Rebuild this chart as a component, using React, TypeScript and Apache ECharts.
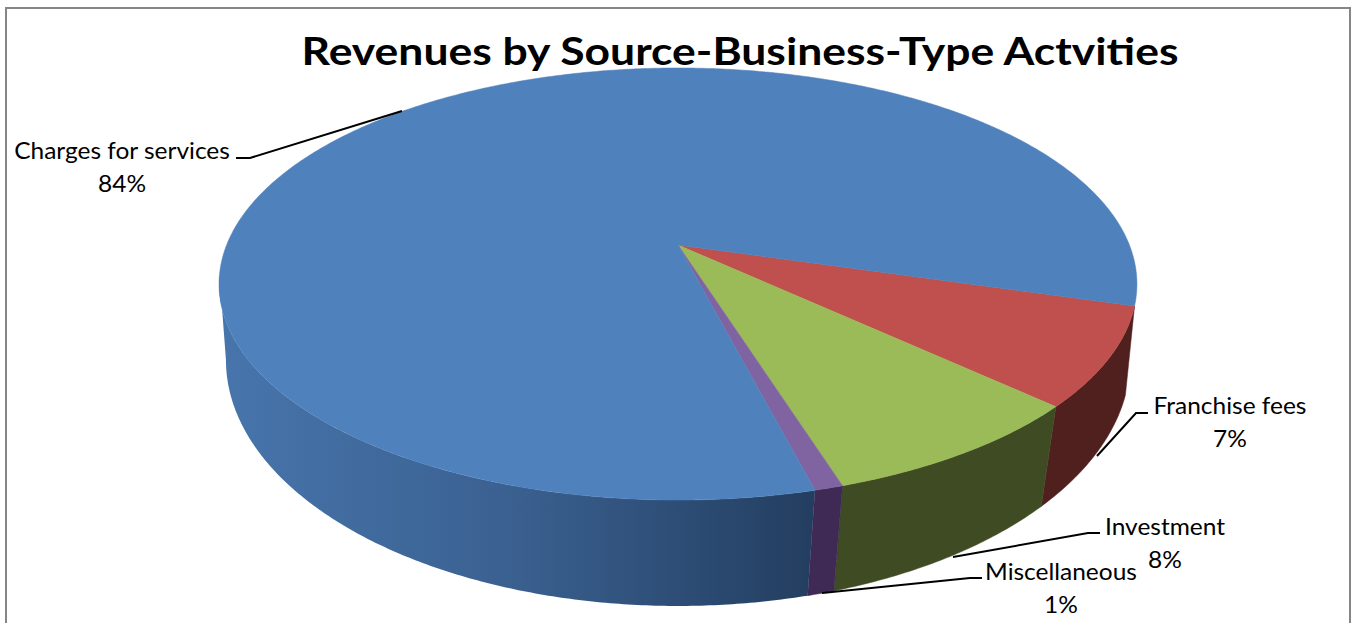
import React, { useEffect, useRef } from "react";
import * as echarts from "echarts";

const titleText = "Revenues by Source-Business-Type Actvities";
const categories = ["Franchise fees", "Investment", "Miscellaneous", "Charges for services"];
const shares = [7.4, 8.25, 0.85, 83.5];

const topColors = ["#C0504D", "#9BBB59", "#8064A2", "#4F81BD"];
const sideColors: any[] = [
  "#50201E",
  "#3F4B23",
  "#3F2A55",
  {
    type: "linear", global: true, x: 218, y: 0, x2: 812, y2: 0,
    colorStops: [
      { offset: 0, color: "#4775AC" },
      { offset: 0.5, color: "#3A6090" },
      { offset: 1, color: "#233E60" },
    ],
  },
];

const startDeg = 16.1;
const CX = 678;
const topPlane = { y0: 245, a: 451.4, b: 209, k: -0.1806 };
const basePlane = { y0: 325.5, a: 447.6, b: 241.2, k: -0.14 };

const labelLayout = [
  { x: 1230, y: 405, line: [[1148, 413], [1136, 413], [1097, 456]] },
  { x: 1165, y: 526, line: [[1100, 533], [1088, 533], [953, 557]] },
  { x: 1061, y: 571, line: [[982, 578], [970, 578], [822, 593]] },
  { x: 122, y: 150, line: [[236, 158], [250, 158], [402, 111]] },
];

const project = (p: typeof topPlane, deg: number) => {
  const t = (deg * Math.PI) / 180;
  const u = Math.cos(t);
  const v = Math.sin(t);
  const d = 1 + p.k * v;
  return [CX + (p.a * u) / d, p.y0 + (p.b * v) / d];
};

const arcRange = (from: number, to: number) => {
  const out: number[] = [];
  const n = Math.max(2, Math.ceil((to - from) / 0.5));
  for (let i = 0; i <= n; i++) out.push(from + ((to - from) * i) / n);
  return out;
};

export default function App() {
  const ref = useRef<HTMLDivElement>(null);
  useEffect(() => {
    document.body.style.margin = "0";
    const chart = echarts.init(ref.current!, null, { renderer: "svg" });
    const total = shares.reduce((a, b) => a + b, 0);
    const fontFamily = "Lato";

    const renderItem = (params: any, api: any) => {
      const i = params.dataIndex;
      const before = shares.slice(0, i).reduce((a, b) => a + b, 0);
      const a0 = startDeg + (before / total) * 360;
      const a1 = a0 + (api.value(0) / total) * 360;
      const children: any[] = [];
      const topPts = [[CX, topPlane.y0], ...arcRange(a0, a1).map((d) => project(topPlane, d))];
      const vis0 = Math.max(a0, 10);
      const vis1 = Math.min(a1, 172);
      if (vis1 > vis0) {
        const range = arcRange(vis0, vis1);
        const sidePts = [
          ...range.map((d) => project(topPlane, d)),
          ...range.slice().reverse().map((d) => project(basePlane, d)),
        ];
        children.push({
          type: "polygon",
          z2: 1,
          shape: { points: sidePts },
          style: { fill: sideColors[i], stroke: sideColors[i], lineWidth: i === 3 ? 0 : 0.5 },
        });
      }
      children.push({
        type: "polygon",
        z2: 2,
        shape: { points: topPts },
        style: { fill: topColors[i], stroke: topColors[i], lineWidth: 0.5 },
      });
      return { type: "group", children };
    };

    const graphics: any[] = [
      {
        type: "rect",
        shape: { x: 6, y: 8, width: 1344, height: 640 },
        style: { fill: "none", stroke: "#868686", lineWidth: 2 },
        z: -1,
      },
      {
        type: "text",
        x: 740,
        y: 50,
        scaleX: 1.17,
        style: {
          text: titleText,
          fontFamily,
          fontWeight: "bold",
          fontSize: 38,
          fill: "#000",
          align: "center",
          verticalAlign: "middle",
        },
        z: 10,
      },
    ];
    categories.forEach((name, i) => {
      const l = labelLayout[i];
      graphics.push({
        type: "polyline",
        shape: { points: l.line },
        style: { fill: "none", stroke: "#000", lineWidth: 2 },
        z: 10,
      });
      graphics.push({
        type: "text",
        x: l.x,
        y: l.y,
        scaleX: 1.02,
        style: { text: name, fontFamily, fontSize: 24, fill: "#000", align: "center", verticalAlign: "middle" },
        z: 10,
      });
      graphics.push({
        type: "text",
        x: l.x,
        y: l.y + 33,
        scaleX: 1.02,
        style: {
          text: Math.round((shares[i] / total) * 100) + "%",
          fontFamily,
          fontSize: 24,
          fill: "#000",
          align: "center",
          verticalAlign: "middle",
        },
        z: 10,
      });
    });

    chart.setOption({
      animation: false,
      backgroundColor: "#fff",
      graphic: graphics,
      series: [
        {
          type: "custom",
          coordinateSystem: "none",
          renderItem,
          silent: true,
          data: shares.map((v, i) => ({ name: categories[i], value: [v] })),
        },
      ],
    });
    return () => chart.dispose();
  }, []);
  return <div ref={ref} style={{ position: "fixed", left: 0, top: 0, width: 1356, height: 623 }} />;
}
